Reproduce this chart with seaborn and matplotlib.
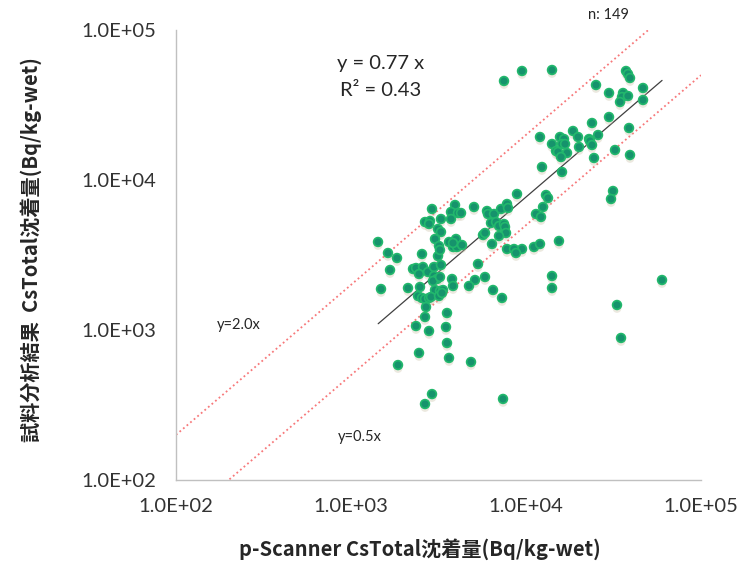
import numpy as np
import pandas as pd
import matplotlib
matplotlib.use("Agg")
import matplotlib.pyplot as plt
import matplotlib.patheffects as pe
from matplotlib.ticker import LogLocator, FuncFormatter, NullLocator
import seaborn as sns

# p-Scanner CsTotal deposition (Bq/kg-wet)
scanner = [
    7487, 9489, 14080, 37280, 38270, 39290, 25120, 46630, 29810, 35840,
    35370, 34450, 38270, 46630, 29810, 23830, 38780, 18560, 12020, 15640,
    16490, 16060, 16710, 19830, 25790, 22910, 23210, 23830, 14080, 20090,
    14840, 15230, 17150, 15850, 24470, 32260, 39290, 12340, 16060, 31420,
    30600, 13010, 13360, 8885, 12510, 11410, 12180, 15430, 11110, 12020,
    9489, 14080, 14080, 59870, 33110, 34910, 3930, 5046, 2903, 3728,
    4087, 4252, 2648, 2827, 2791, 3267, 3728, 3141, 3267, 3020,
    3631, 3981, 3828, 4034, 4308, 3828, 1427, 1627, 1832, 2545,
    3183, 3141, 1671, 2261, 2352, 2579, 2447, 2754, 2980, 3267,
    2980, 3100, 2941, 3225, 3778, 3828, 1484, 2117, 2479, 3020,
    3225, 3355, 2415, 2545, 2648, 2791, 2865, 3183, 3311, 2683,
    2648, 2352, 2791, 3536, 3490, 3536, 2447, 1856, 3631, 4850,
    2903, 2648, 7390, 5987, 6066, 6564, 7198, 7788, 7892, 6310,
    6739, 7010, 7487, 7586, 7687, 5679, 5831, 7010, 6393, 7788,
    8541, 8769, 3225, 5318, 5112, 5831, 4724, 6478, 7293,
]
# sample analysis CsTotal deposition (Bq/kg-wet)
analysis = [
    45710, 53300, 54120, 53300, 50890, 47860, 42990, 41060, 38020, 38020,
    35760, 33110, 36310, 34150, 26300, 23990, 22220, 21220, 19350, 19350,
    18760, 17380, 17380, 19350, 19950, 18760, 18200, 17110, 17380, 16600,
    15610, 15370, 15140, 14230, 14020, 15850, 14680, 12210, 11310, 8447,
    7470, 7943, 7586, 8067, 6607, 5934, 5667, 3921, 3576, 3745,
    3467, 2291, 1905, 2154, 1468, 885, 6813, 6607, 6408, 6119,
    6026, 6026, 5248, 5330, 5090, 5495, 5495, 4714, 4502, 4044,
    3862, 4044, 3576, 3576, 3687, 3802, 3862, 3261, 3020, 3211,
    3631, 3113, 2512, 2551, 2590, 2630, 2362, 2436, 2630, 2713,
    2291, 2188, 2121, 2256, 2188, 1965, 1876, 1905, 1935, 1848,
    1820, 1848, 1686, 1635, 1609, 1635, 1660, 1686, 1765, 1423,
    1221, 1063, 985, 1298, 1047, 819, 703, 584, 651, 612,
    374, 321, 347, 6214, 5934, 5934, 6408, 6918, 6506, 5168,
    5248, 4936, 5090, 4862, 4434, 4299, 4434, 4234, 3745, 3467,
    3467, 3261, 3415, 2754, 2154, 2256, 1965, 1848, 1635,
]

fit_slope = 0.77
fit_r2 = 0.43
fit_x = [1430, 59900]
ref_slopes = [2.0, 0.5]
ref_x = [100, 100000]
tick_values = [1e2, 1e3, 1e4, 1e5]

df = pd.DataFrame({"scanner": scanner, "analysis": analysis})

sns.set_style("white")
plt.rcParams["font.family"] = ["Lato", "DejaVu Sans"]

fig = plt.figure(figsize=(7.41, 5.62), dpi=100)
ax = fig.add_axes([176 / 741, 1 - 480 / 562, 525 / 741, 450 / 562])

# reference lines y=2x, y=0.5x
for s in ref_slopes:
    sns.lineplot(x=ref_x, y=[s * v for v in ref_x], ax=ax, color="#f7787a",
                 linewidth=1.3, linestyle=(0, (1, 1.6)), zorder=2)

# trendline
sns.lineplot(x=fit_x, y=[fit_slope * v for v in fit_x], ax=ax, color="#404040",
             linewidth=0.9, zorder=3)

sns.scatterplot(data=df, x="scanner", y="analysis", ax=ax, s=40,
                color="#16936c", edgecolor="#22b86c", linewidth=1.2, zorder=4)
for coll in ax.collections:
    coll.set_path_effects([pe.SimplePatchShadow(offset=(0, -2.5), shadow_rgbFace="#c9c0a6", alpha=0.35),
                           pe.Normal()])

ax.set_xscale("log")
ax.set_yscale("log")
ax.set_xlim(100, 100000)
ax.set_ylim(100, 100000)
fmt = FuncFormatter(lambda v, p: f"{v:.1E}")
for axis in (ax.xaxis, ax.yaxis):
    axis.set_major_locator(LogLocator(base=10, numticks=10))
    axis.set_minor_locator(NullLocator())
    axis.set_major_formatter(fmt)

for side in ("top", "right"):
    ax.spines[side].set_visible(False)
for side in ("left", "bottom"):
    ax.spines[side].set_color("#c0c0c0")
    ax.spines[side].set_linewidth(1.0)

ax.tick_params(axis="both", which="major", direction="out", length=6, width=1,
               color="#c0c0c0", labelsize=14.5, labelcolor="#333333")
ax.tick_params(axis="y", pad=8)
ax.tick_params(axis="x", pad=7)
ax.set_xlabel("")
ax.set_ylabel("")
ax.grid(False)

cjk = ["Noto Sans CJK JP", "DejaVu Sans"]
fig.text(420 / 741, 1 - 549 / 562, "p-Scanner CsTotal沈着量(Bq/kg-wet)", ha="center", va="center",
         fontsize=14.5, fontweight="bold", family=cjk, color="#262626")
fig.text(31 / 741, 1 - 250 / 562, "試料分析結果  CsTotal沈着量(Bq/kg-wet)", ha="center", va="center",
         rotation=90, fontsize=14.5, fontweight="bold", family=cjk, color="#262626")

fig.text(381 / 741, 1 - 63 / 562, f"y = {fit_slope:.2f} x", ha="center", va="center",
         fontsize=14.5, color="#262626")
fig.text(381 / 741, 1 - 90 / 562, f"R² = {fit_r2:.2f}", ha="center", va="center",
         fontsize=14.5, color="#262626")
fig.text(608 / 741, 1 - 15 / 562, f"n: {len(scanner)}", ha="center", va="center",
         fontsize=10.5, color="#262626")
fig.text(239 / 741, 1 - 325 / 562, "y=2.0x", ha="center", va="center",
         fontsize=10.5, color="#262626")
fig.text(360 / 741, 1 - 437 / 562, "y=0.5x", ha="center", va="center",
         fontsize=10.5, color="#262626")

fig.savefig("out.png", dpi=100)
